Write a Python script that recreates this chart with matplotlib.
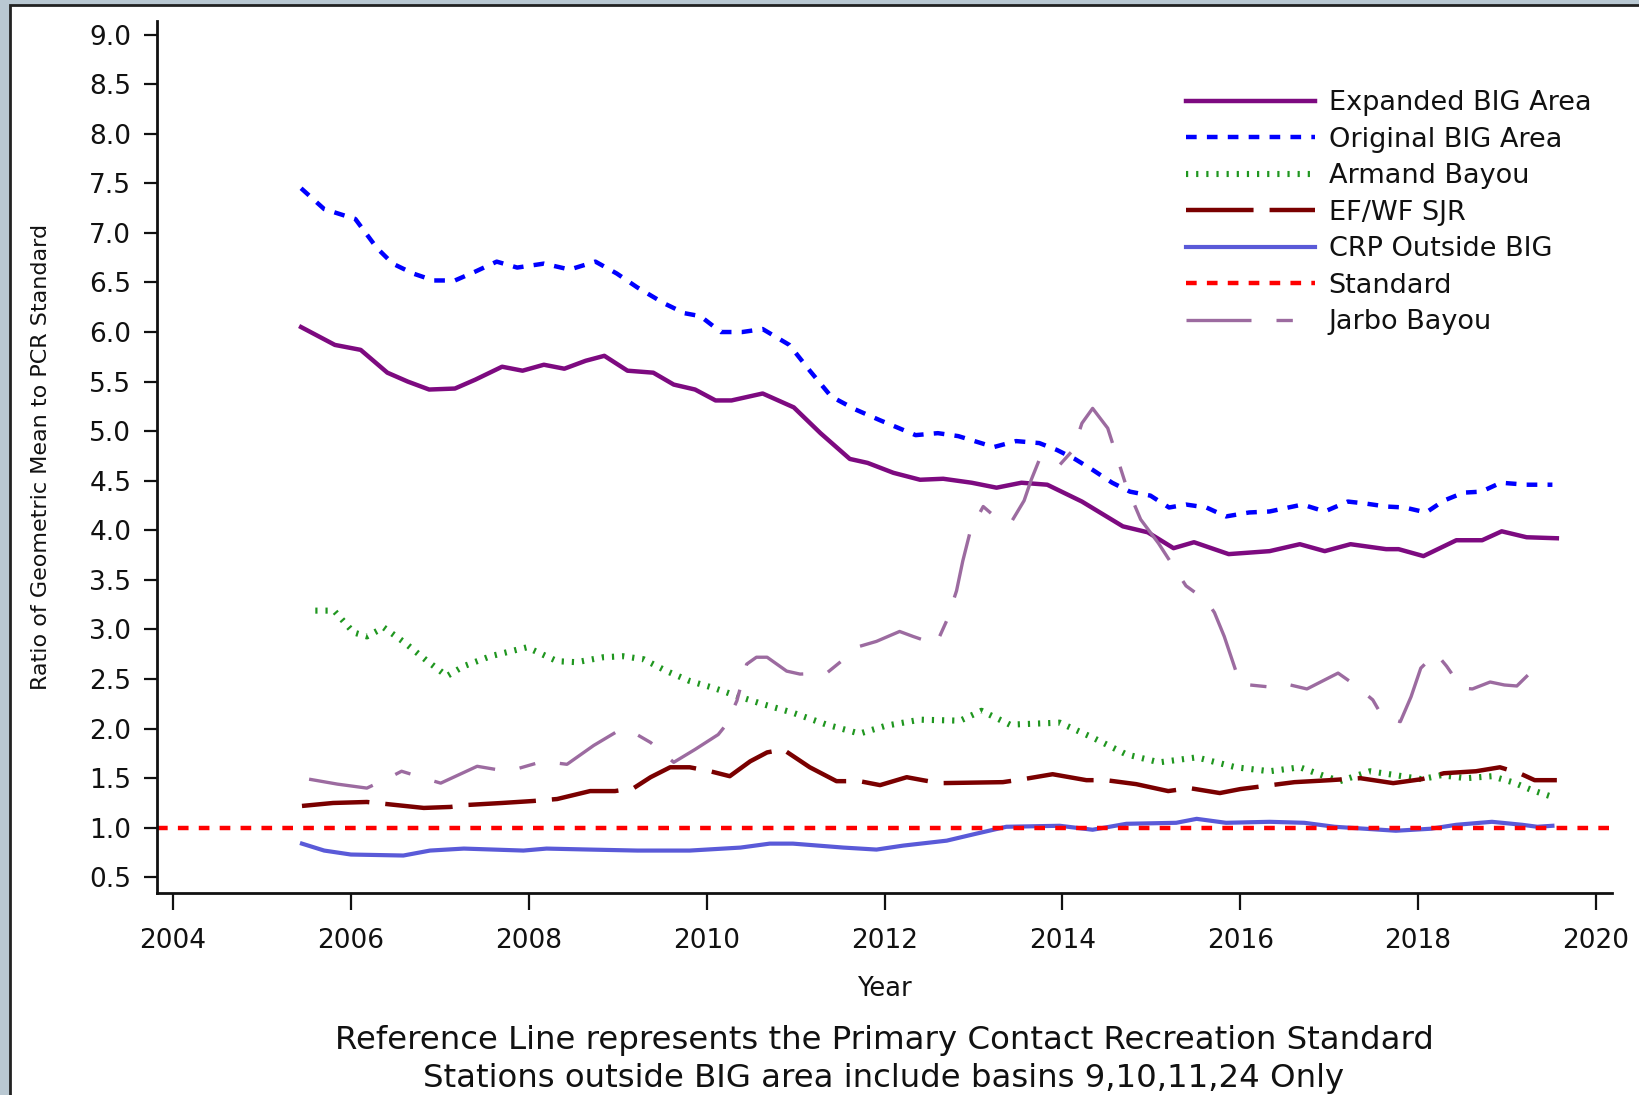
import matplotlib
matplotlib.use("Agg")
import matplotlib.pyplot as plt
from matplotlib.patches import Rectangle

plt.rcParams['font.family'] = ['DejaVu Sans']

# ---------------- data ----------------
exp_years = [2005.44, 2005.82, 2006.11, 2006.41, 2006.64, 2006.88, 2007.17, 2007.40, 2007.70, 2007.93,
             2008.17, 2008.40, 2008.64, 2008.85, 2009.11, 2009.40, 2009.63, 2009.87, 2010.10, 2010.28,
             2010.63, 2010.98, 2011.28, 2011.61, 2011.81, 2012.10, 2012.40, 2012.66, 2012.98, 2013.26,
             2013.54, 2013.83, 2014.22, 2014.68, 2014.96, 2015.25, 2015.48, 2015.87, 2016.33, 2016.67,
             2016.95, 2017.24, 2017.64, 2017.78, 2018.06, 2018.43, 2018.72, 2018.94, 2019.22, 2019.56]
exp_vals = [6.05, 5.87, 5.82, 5.59, 5.50, 5.42, 5.43, 5.52, 5.65, 5.61,
            5.67, 5.63, 5.71, 5.76, 5.61, 5.59, 5.47, 5.42, 5.31, 5.31,
            5.38, 5.24, 4.98, 4.72, 4.68, 4.58, 4.51, 4.52, 4.48, 4.43,
            4.48, 4.46, 4.29, 4.04, 3.98, 3.82, 3.88, 3.76, 3.79, 3.86,
            3.79, 3.86, 3.81, 3.81, 3.74, 3.90, 3.90, 3.99, 3.93, 3.92]

orig_years = [2005.44, 2005.70, 2006.05, 2006.29, 2006.47, 2006.70, 2006.93, 2007.17, 2007.40, 2007.64,
              2007.87, 2008.17, 2008.46, 2008.75, 2008.99, 2009.22, 2009.52, 2009.75, 2009.93, 2010.16,
              2010.40, 2010.63, 2010.93, 2011.16, 2011.40, 2011.67, 2011.95, 2012.35, 2012.60, 2012.83,
              2013.23, 2013.48, 2013.74, 2013.94, 2014.14, 2014.34, 2014.56, 2014.76, 2014.99, 2015.20,
              2015.39, 2015.62, 2015.84, 2016.10, 2016.33, 2016.70, 2016.95, 2017.21, 2017.41, 2017.64,
              2017.85, 2018.09, 2018.29, 2018.51, 2018.71, 2018.93, 2019.22, 2019.51]
orig_vals = [7.45, 7.24, 7.14, 6.85, 6.69, 6.59, 6.52, 6.52, 6.61, 6.71,
             6.65, 6.69, 6.63, 6.71, 6.59, 6.45, 6.29, 6.19, 6.16, 6.00,
             6.00, 6.03, 5.87, 5.61, 5.35, 5.22, 5.11, 4.96, 4.98, 4.95,
             4.84, 4.90, 4.88, 4.81, 4.72, 4.61, 4.48, 4.39, 4.35, 4.23,
             4.26, 4.23, 4.14, 4.18, 4.19, 4.26, 4.19, 4.29, 4.27, 4.24,
             4.23, 4.18, 4.30, 4.38, 4.39, 4.48, 4.46, 4.46]

arm_years = [2005.60, 2005.81, 2006.03, 2006.18, 2006.37, 2006.60, 2006.86, 2007.08, 2007.27, 2007.57,
             2007.98, 2008.32, 2008.54, 2008.84, 2009.06, 2009.29, 2009.55, 2009.81, 2010.08, 2010.34,
             2010.62, 2010.97, 2011.35, 2011.72, 2012.02, 2012.40, 2012.85, 2013.09, 2013.41, 2013.97,
             2014.34, 2014.72, 2015.09, 2015.51, 2015.95, 2016.33, 2016.67, 2016.92, 2017.12, 2017.46,
             2017.75, 2018.04, 2018.26, 2018.54, 2018.83, 2019.06, 2019.28, 2019.48]
arm_vals = [3.19, 3.19, 2.97, 2.93, 3.02, 2.87, 2.68, 2.53, 2.63, 2.73,
            2.82, 2.68, 2.67, 2.72, 2.73, 2.70, 2.58, 2.48, 2.41, 2.33,
            2.25, 2.16, 2.04, 1.95, 2.03, 2.09, 2.08, 2.18, 2.04, 2.06,
            1.91, 1.74, 1.66, 1.71, 1.61, 1.57, 1.61, 1.53, 1.47, 1.57,
            1.53, 1.49, 1.53, 1.50, 1.52, 1.46, 1.38, 1.32]

sjr_years = [2005.45, 2005.80, 2006.18, 2006.50, 2006.82, 2007.12, 2007.31, 2007.70, 2008.05, 2008.32,
             2008.69, 2008.97, 2009.18, 2009.37, 2009.59, 2009.81, 2010.04, 2010.26, 2010.49, 2010.68,
             2010.86, 2011.16, 2011.46, 2011.72, 2011.95, 2012.25, 2012.43, 2012.62, 2013.33, 2013.56,
             2013.89, 2014.27, 2014.49, 2014.83, 2015.19, 2015.43, 2015.77, 2016.00, 2016.61, 2017.01,
             2017.35, 2017.72, 2018.04, 2018.29, 2018.65, 2018.92, 2019.14, 2019.31, 2019.56]
sjr_vals = [1.22, 1.25, 1.26, 1.23, 1.20, 1.21, 1.23, 1.25, 1.27, 1.29,
            1.37, 1.37, 1.40, 1.51, 1.61, 1.61, 1.57, 1.52, 1.67, 1.76,
            1.79, 1.61, 1.47, 1.47, 1.43, 1.51, 1.48, 1.45, 1.46, 1.49,
            1.54, 1.48, 1.48, 1.44, 1.37, 1.40, 1.35, 1.39, 1.46, 1.48,
            1.50, 1.45, 1.49, 1.55, 1.57, 1.61, 1.55, 1.48, 1.48]

crp_years = [2005.45, 2005.70, 2006.00, 2006.59, 2006.89, 2007.27, 2007.94, 2008.20, 2008.69, 2009.22,
             2009.81, 2010.38, 2010.71, 2010.97, 2011.54, 2011.91, 2012.21, 2012.70, 2013.03, 2013.37,
             2013.97, 2014.34, 2014.72, 2015.28, 2015.51, 2015.84, 2016.33, 2016.72, 2017.06, 2017.75,
             2018.14, 2018.43, 2018.83, 2019.17, 2019.34, 2019.51]
crp_vals = [0.84, 0.77, 0.73, 0.72, 0.77, 0.79, 0.77, 0.79, 0.78, 0.77,
            0.77, 0.80, 0.84, 0.84, 0.80, 0.78, 0.82, 0.87, 0.94, 1.01,
            1.02, 0.98, 1.04, 1.05, 1.09, 1.05, 1.06, 1.05, 1.01, 0.97,
            0.99, 1.03, 1.06, 1.03, 1.01, 1.02]

standard_value = 1.0

jar_years = [2005.53, 2005.85, 2006.18, 2006.44, 2006.57, 2006.86, 2007.01, 2007.42, 2007.75, 2007.89,
             2008.16, 2008.43, 2008.73, 2009.01, 2009.12, 2009.37, 2009.63, 2009.87, 2010.13, 2010.22,
             2010.34, 2010.45, 2010.56, 2010.68, 2010.90, 2011.05, 2011.35, 2011.72, 2011.91, 2012.17,
             2012.32, 2012.58, 2012.70, 2012.81, 2012.88, 2012.97, 2013.11, 2013.29, 2013.43, 2013.57,
             2013.65, 2013.74, 2013.83, 2013.97, 2014.12, 2014.22, 2014.34, 2014.51, 2014.71, 2014.88,
             2015.08, 2015.39, 2015.62, 2015.71, 2015.82, 2016.00, 2016.33, 2016.47, 2016.75, 2017.10,
             2017.29, 2017.49, 2017.60, 2017.80, 2017.92, 2018.03, 2018.20, 2018.32, 2018.49, 2018.61,
             2018.81, 2018.97, 2019.11, 2019.28]
jar_vals = [1.49, 1.44, 1.40, 1.51, 1.57, 1.49, 1.45, 1.62, 1.57, 1.60,
            1.67, 1.64, 1.83, 1.98, 1.99, 1.86, 1.66, 1.79, 1.94, 2.04,
            2.28, 2.65, 2.72, 2.72, 2.58, 2.55, 2.56, 2.83, 2.88, 2.98,
            2.93, 2.85, 3.09, 3.39, 3.69, 4.01, 4.24, 4.10, 4.09, 4.30,
            4.51, 4.71, 4.74, 4.66, 4.81, 5.08, 5.23, 5.03, 4.47, 4.11,
            3.87, 3.44, 3.29, 3.17, 2.93, 2.45, 2.42, 2.46, 2.40, 2.56,
            2.44, 2.29, 2.12, 2.07, 2.32, 2.61, 2.76, 2.63, 2.41, 2.40,
            2.47, 2.44, 2.43, 2.58]

series_labels = ["Expanded BIG Area", "Original BIG Area", "Armand Bayou", "EF/WF SJR",
                 "CRP Outside BIG", "Standard", "Jarbo Bayou"]
x_ticks = [2004, 2006, 2008, 2010, 2012, 2014, 2016, 2018, 2020]
y_ticks = [0.5, 1.0, 1.5, 2.0, 2.5, 3.0, 3.5, 4.0, 4.5, 5.0, 5.5, 6.0, 6.5, 7.0, 7.5, 8.0, 8.5, 9.0]
x_label = "Year"
y_label = "Ratio of Geometric Mean to PCR Standard"
caption = ["Reference Line represents the Primary Contact Recreation Standard",
           "Stations outside BIG area include basins 9,10,11,24 Only"]

# ---------------- figure ----------------
W, H = 1639, 1095
fig = plt.figure(figsize=(W / 100, H / 100), dpi=100)
fig.patch.set_facecolor('#b9c8d2')
panel = Rectangle((10 / W, -0.05), 1.1, 1 - 5 / H + 0.05, transform=fig.transFigure,
                  facecolor='white', edgecolor='#222222', linewidth=2, zorder=-10)
fig.add_artist(panel)

ax = fig.add_axes([157 / W, 1 - 893 / H, (1612 - 157) / W, (893 - 21) / H])
ax.set_zorder(5)
ax.set_facecolor('none')

ax.plot(exp_years, exp_vals, color='#7d0a80', lw=3.2, solid_joinstyle='round', label=series_labels[0])
ax.plot(orig_years, orig_vals, color='#0000ff', lw=3.2, linestyle=(0, (2.4, 2.3)),
        dash_capstyle='butt', label=series_labels[1])
ax.plot(arm_years, arm_vals, color='#1f961f', lw=4.4, linestyle=(0, (0.36, 1.3)),
        dash_capstyle='butt', label=series_labels[2])
ax.plot(sjr_years, sjr_vals, color='#7a0000', lw=3.2, linestyle=(0, (15.2, 3.6)),
        dash_capstyle='butt', label=series_labels[3])
ax.plot(crp_years, crp_vals, color='#5a5ad8', lw=3, solid_joinstyle='round', label=series_labels[4])
ax.axhline(standard_value, color='#ff0000', lw=3.2, linestyle=(0, (2.4, 2.3)),
           dash_capstyle='butt', label=series_labels[5])
ax.plot(jar_years, jar_vals, color='#9c6ba0', lw=2.4, linestyle=(0, (19.5, 7.5, 4.9, 7.5)),
        dash_capstyle='butt', label=series_labels[6])

ax.set_xlim(2003.82, 2020.18)
ax.set_ylim(0.342, 9.137)
ax.set_xticks(x_ticks)
ax.set_xticklabels([str(t) for t in x_ticks])
ax.set_yticks(y_ticks)
ax.set_yticklabels([f"{t:.1f}" for t in y_ticks])

for s in ['top', 'right']:
    ax.spines[s].set_visible(False)
for s in ['left', 'bottom']:
    ax.spines[s].set_linewidth(2)
    ax.spines[s].set_color('#111111')
ax.tick_params(axis='y', direction='out', length=9.5, width=1.6, pad=9, labelsize=19, colors='#111111')
ax.tick_params(axis='x', direction='out', length=12, width=1.6, pad=13, labelsize=19, colors='#111111')

ax.set_ylabel(y_label, fontsize=16, color='#111111')
ax.yaxis.set_label_coords(-(157 - 51) / (1612 - 157), 0.5)
fig.text(884 / W, 1 - 989 / H, x_label, ha='center', va='center', fontsize=18.5, color='#111111', zorder=6)
fig.text(884 / W, 1 - 1040 / H, caption[0], ha='center', va='center', fontsize=23.3, color='#111111', zorder=6)
fig.text(884 / W, 1 - 1078 / H, caption[1], ha='center', va='center', fontsize=23.3, color='#111111', zorder=6)

leg = ax.legend(loc='upper left', bbox_to_anchor=(1186 / W, 1 - 90.5 / H), bbox_transform=fig.transFigure,
                frameon=False, fontsize=19.5, handlelength=4.75, handletextpad=0.52,
                labelspacing=0.385, borderpad=0, borderaxespad=0)
for t in leg.get_texts():
    t.set_color('#111111')

fig.savefig("out.png", dpi=100, facecolor=fig.get_facecolor())
